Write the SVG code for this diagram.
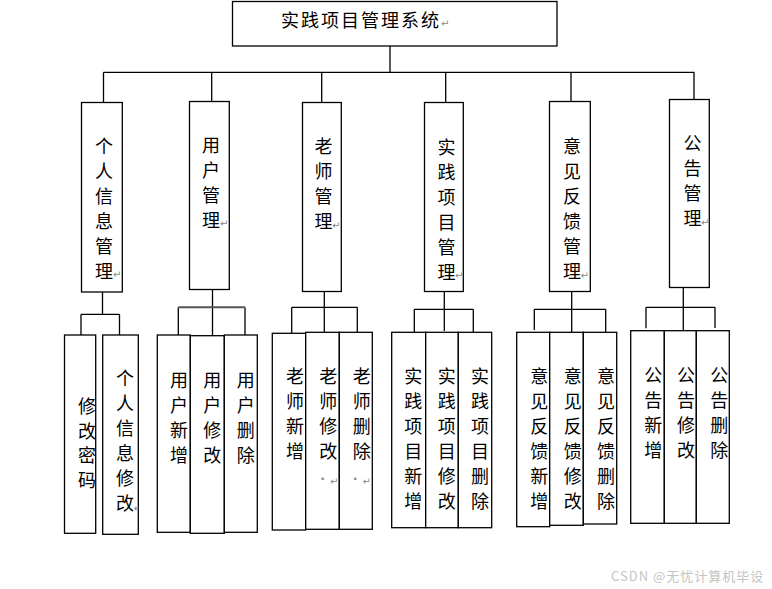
<svg xmlns="http://www.w3.org/2000/svg" width="772" height="589" viewBox="0 0 772 589">
<style>
.box{fill:#fff;stroke:#000;stroke-width:1.3}
.ln{fill:none;stroke:#000;stroke-width:1.3}
.t{font-family:"Noto Sans CJK SC","Noto Sans CJK JP",sans-serif;font-size:18px;fill:#000;text-anchor:middle}
.ret{font-family:"DejaVu Sans",sans-serif;font-size:10px;fill:#888;text-anchor:start}
</style>
<defs>
<clipPath id="c1"><rect x="64.5" y="335" width="31" height="198"/></clipPath>
<clipPath id="c2"><rect x="102.7" y="335" width="35.6" height="199"/></clipPath>
</defs>
<rect width="772" height="589" fill="#fff"/>
<g id="connectors">
<path class="ln" d="M390,46V72.3M103.5,72.3H694.3M103.5,72.3V102M211.7,72.3V101M321.7,72.3V102M445.7,72.3V102M571,72.3V101M694,72.3V99"/>
<path class="ln" d="M102.5,292V314.3M81,314.3H119.5M81,314.3V335M119.5,314.3V335"/>
<path class="ln" d="M212.5,289V336M178.3,307.3V335M245,307.3V335"/>
<path d="M178.3,307.3H245" fill="none" stroke="#555" stroke-width="2"/>
<path class="ln" d="M324.3,291V333M291.7,307.3H357.3M291.7,307.3V333M357.3,307.3V332"/>
<path class="ln" d="M444.3,291V331M414.3,309.3H473.3M414.3,309.3V332M473.3,309.3V332"/>
<path class="ln" d="M571.7,291V332M534.3,309.3H605.7M534.3,309.3V330M605.7,309.3V332"/>
<path class="ln" d="M683.3,287V330M646,307.3H715M646,307.3V328.3M715,307.3V328"/>
</g>
<g id="root">
<rect class="box" x="232.5" y="1.5" width="324.5" height="44.5"/>
<text class="t" x="281" y="27" style="text-anchor:start;letter-spacing:2px">实践项目管理系统</text>
<text class="ret" x="441" y="27">↵</text>
</g>
<g id="n-personal">
<rect class="box" x="81.5" y="102.5" width="40.8" height="189.5"/>
<text class="t"><tspan x="104" y="152.5">个</tspan><tspan x="104" y="177.5">人</tspan><tspan x="104" y="202.5">信</tspan><tspan x="104" y="227.5">息</tspan><tspan x="104" y="252.5">管</tspan><tspan x="104" y="277.5">理</tspan></text>
<text class="ret" x="113" y="278">↵</text>
</g>
<g id="n-user">
<rect class="box" x="189.5" y="101.5" width="39.8" height="188"/>
<text class="t"><tspan x="211" y="151.5">用</tspan><tspan x="211" y="176.5">户</tspan><tspan x="211" y="201.5">管</tspan><tspan x="211" y="226.5">理</tspan></text>
<text class="ret" x="220" y="227">↵</text>
</g>
<g id="n-teacher">
<rect class="box" x="302.5" y="102.5" width="38.8" height="189"/>
<text class="t"><tspan x="323.5" y="153">老</tspan><tspan x="323.5" y="178">师</tspan><tspan x="323.5" y="203">管</tspan><tspan x="323.5" y="228">理</tspan></text>
<text class="ret" x="332" y="229">↵</text>
</g>
<g id="n-project">
<rect class="box" x="424.5" y="102.5" width="38.8" height="189"/>
<text class="t"><tspan x="446.5" y="153.5">实</tspan><tspan x="446.5" y="178.5">践</tspan><tspan x="446.5" y="203.5">项</tspan><tspan x="446.5" y="228.5">目</tspan><tspan x="446.5" y="253.5">管</tspan><tspan x="446.5" y="278.5">理</tspan></text>
<text class="ret" x="455" y="279">↵</text>
</g>
<g id="n-feedback">
<rect class="box" x="549.5" y="101.5" width="40.8" height="190"/>
<text class="t"><tspan x="572" y="153">意</tspan><tspan x="572" y="178">见</tspan><tspan x="572" y="203">反</tspan><tspan x="572" y="228">馈</tspan><tspan x="572" y="253">管</tspan><tspan x="572" y="278">理</tspan></text>
<text class="ret" x="580.5" y="278.5">↵</text>
</g>
<g id="n-notice">
<rect class="box" x="669.5" y="99.5" width="39.8" height="188"/>
<text class="t"><tspan x="692.5" y="149.5">公</tspan><tspan x="692.5" y="174.5">告</tspan><tspan x="692.5" y="199.5">管</tspan><tspan x="692.5" y="224.5">理</tspan></text>
<text class="ret" x="701" y="226">↵</text>
</g>
<g id="n-pwd">
<rect class="box" x="64.5" y="335" width="31.2" height="198.3"/>
<text class="t" clip-path="url(#c1)"><tspan x="87" y="413">修</tspan><tspan x="87" y="437.5">改</tspan><tspan x="87" y="462">密</tspan><tspan x="87" y="486.5">码</tspan></text>
</g>
<g id="n-info-edit">
<rect class="box" x="102.7" y="335" width="35.6" height="199.3"/>
<g clip-path="url(#c2)">
<text class="t"><tspan x="125" y="385">个</tspan><tspan x="125" y="410">人</tspan><tspan x="125" y="435">信</tspan><tspan x="125" y="460">息</tspan><tspan x="125" y="485">修</tspan><tspan x="125" y="510">改</tspan></text>
<text class="ret" x="133.5" y="512">↵</text>
</g>
</g>
<g id="n-user-add">
<rect class="box" x="157.3" y="335" width="33" height="197.3"/>
<text class="t"><tspan x="179" y="386.5">用</tspan><tspan x="179" y="411.5">户</tspan><tspan x="179" y="436.5">新</tspan><tspan x="179" y="461.5">增</tspan></text>
</g>
<g id="n-user-edit">
<rect class="box" x="190.3" y="335.7" width="34" height="197.6"/>
<text class="t"><tspan x="212.3" y="386.5">用</tspan><tspan x="212.3" y="411.5">户</tspan><tspan x="212.3" y="436.5">修</tspan><tspan x="212.3" y="461.5">改</tspan></text>
</g>
<g id="n-user-del">
<rect class="box" x="224.3" y="335" width="33" height="197.3"/>
<text class="t"><tspan x="245.7" y="386.5">用</tspan><tspan x="245.7" y="411.5">户</tspan><tspan x="245.7" y="436.5">删</tspan><tspan x="245.7" y="461.5">除</tspan></text>
</g>
<g id="n-teacher-add">
<rect class="box" x="272.3" y="333.3" width="33.4" height="196.7"/>
<text class="t"><tspan x="295" y="383">老</tspan><tspan x="295" y="408">师</tspan><tspan x="295" y="433">新</tspan><tspan x="295" y="458">增</tspan></text>
</g>
<g id="n-teacher-edit">
<rect class="box" x="305.7" y="332.3" width="33.6" height="197"/>
<text class="t"><tspan x="328.3" y="383">老</tspan><tspan x="328.3" y="408">师</tspan><tspan x="328.3" y="433">修</tspan><tspan x="328.3" y="458">改</tspan></text>
<text class="ret" x="320" y="482" style="font-size:9px">•</text><text class="ret" x="330" y="485">↵</text>
</g>
<g id="n-teacher-del">
<rect class="box" x="339.3" y="332.3" width="33" height="197"/>
<text class="t"><tspan x="361.7" y="383">老</tspan><tspan x="361.7" y="408">师</tspan><tspan x="361.7" y="433">删</tspan><tspan x="361.7" y="458">除</tspan></text>
<text class="ret" x="352.5" y="482" style="font-size:9px">•</text><text class="ret" x="362.5" y="485">↵</text>
</g>
<g id="n-project-add">
<rect class="box" x="391.7" y="332.3" width="34" height="195.4"/>
<text class="t"><tspan x="413.3" y="383">实</tspan><tspan x="413.3" y="408">践</tspan><tspan x="413.3" y="433">项</tspan><tspan x="413.3" y="458">目</tspan><tspan x="413.3" y="483">新</tspan><tspan x="413.3" y="508">增</tspan></text>
</g>
<g id="n-project-edit">
<rect class="box" x="425.7" y="332.3" width="32.6" height="195.4"/>
<text class="t"><tspan x="446.7" y="383">实</tspan><tspan x="446.7" y="408">践</tspan><tspan x="446.7" y="433">项</tspan><tspan x="446.7" y="458">目</tspan><tspan x="446.7" y="483">修</tspan><tspan x="446.7" y="508">改</tspan></text>
</g>
<g id="n-project-del">
<rect class="box" x="458.3" y="332.3" width="33.4" height="195.4"/>
<text class="t"><tspan x="480" y="383">实</tspan><tspan x="480" y="408">践</tspan><tspan x="480" y="433">项</tspan><tspan x="480" y="458">目</tspan><tspan x="480" y="483">删</tspan><tspan x="480" y="508">除</tspan></text>
</g>
<g id="n-feedback-add">
<rect class="box" x="516.7" y="332.3" width="33" height="194.4"/>
<text class="t"><tspan x="539.3" y="383">意</tspan><tspan x="539.3" y="408">见</tspan><tspan x="539.3" y="433">反</tspan><tspan x="539.3" y="458">馈</tspan><tspan x="539.3" y="483">新</tspan><tspan x="539.3" y="508">增</tspan></text>
</g>
<g id="n-feedback-edit">
<rect class="box" x="549.7" y="332.3" width="33.6" height="193"/>
<text class="t"><tspan x="572.7" y="383">意</tspan><tspan x="572.7" y="408">见</tspan><tspan x="572.7" y="433">反</tspan><tspan x="572.7" y="458">馈</tspan><tspan x="572.7" y="483">修</tspan><tspan x="572.7" y="508">改</tspan></text>
</g>
<g id="n-feedback-del">
<rect class="box" x="583.3" y="332.3" width="33.4" height="191.7"/>
<text class="t"><tspan x="606" y="383">意</tspan><tspan x="606" y="408">见</tspan><tspan x="606" y="433">反</tspan><tspan x="606" y="458">馈</tspan><tspan x="606" y="483">删</tspan><tspan x="606" y="508">除</tspan></text>
</g>
<g id="n-notice-add">
<rect class="box" x="630.7" y="330.7" width="33.6" height="192.6"/>
<text class="t"><tspan x="653.3" y="381.5">公</tspan><tspan x="653.3" y="406.5">告</tspan><tspan x="653.3" y="431.5">新</tspan><tspan x="653.3" y="456.5">增</tspan></text>
</g>
<g id="n-notice-edit">
<rect class="box" x="664.3" y="330.7" width="32" height="192.6"/>
<text class="t"><tspan x="686" y="381.5">公</tspan><tspan x="686" y="406.5">告</tspan><tspan x="686" y="431.5">修</tspan><tspan x="686" y="456.5">改</tspan></text>
</g>
<g id="n-notice-del">
<rect class="box" x="696.3" y="330.7" width="33" height="192.6"/>
<text class="t"><tspan x="719.3" y="381.5">公</tspan><tspan x="719.3" y="406.5">告</tspan><tspan x="719.3" y="431.5">删</tspan><tspan x="719.3" y="456.5">除</tspan></text>
</g>
<text x="611" y="581" style="font-family:'Noto Sans CJK SC',sans-serif;font-size:13px;fill:#c4c4c4;letter-spacing:1px">CSDN @无忧计算机毕设</text>
</svg>
